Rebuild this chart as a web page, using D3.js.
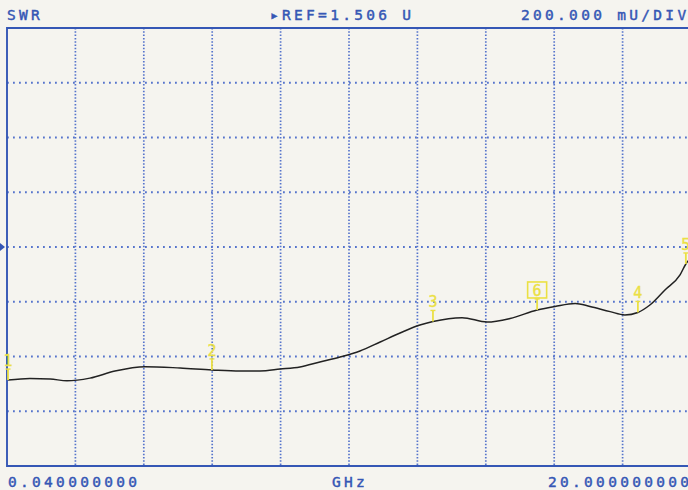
<!DOCTYPE html>
<html>
<head>
<meta charset="utf-8">
<script src="https://cdn.jsdelivr.net/npm/d3@7"></script>
<style>
  html, body { margin: 0; padding: 0; background: #f5f4ef; }
  svg { display: block; }
  text { font-family: "DejaVu Sans Mono", monospace; }
</style>
</head>
<body>
<script>
// trace: frequency (GHz) and SWR
var freq = [0.07, 0.71, 1.30, 1.79, 2.46, 3.19, 4.07, 5.09, 6.02, 6.84, 7.42, 8.01, 8.59, 9.17,
            9.76, 10.34, 10.93, 11.51, 12.09, 12.47, 13.32, 14.05, 14.72, 15.51, 16.03, 16.62,
            17.05, 17.64, 18.07, 18.45, 18.80, 19.24, 19.68, 19.85, 20.0];
var swr  = [1.020, 1.026, 1.024, 1.017, 1.027, 1.053, 1.069, 1.064, 1.057, 1.053, 1.053, 1.060,
            1.068, 1.086, 1.104, 1.126, 1.159, 1.192, 1.221, 1.234, 1.248, 1.232, 1.245, 1.276,
            1.289, 1.300, 1.289, 1.270, 1.258, 1.267, 1.294, 1.349, 1.404, 1.444, 1.466];

var markerIds   = ["1", "2", "3", "6", "4", "5"];
var markerFreqs = [0.07, 6.02, 12.47, 15.51, 18.45, 19.85];
var activeMarker = "6";

var startFreq = 0.04, stopFreq = 20, refValue = 1.506, perDiv = 0.2;
var xDivisions = 10, yDivisions = 8, refPos = 4;

var width = 688,
    height = 490;

var x = d3.scaleLinear()
    .domain([startFreq, stopFreq])
    .range([7, 691]);

var y = d3.scaleLinear()
    .domain([refValue - refPos * perDiv, refValue + (yDivisions - refPos) * perDiv])
    .range([466, 28]);

var blue = "#3557b5",
    yellow = "#ebe044";

var svg = d3.select("body").append("svg")
    .attr("width", width)
    .attr("height", height);

var xGrid = d3.range(1, xDivisions).map(function(i) { return startFreq + i * (stopFreq - startFreq) / xDivisions; });
var yGrid = d3.range(1, yDivisions).map(function(i) { return y.domain()[0] + i * perDiv; });

svg.selectAll(".vgrid")
    .data(xGrid)
  .enter().append("line")
    .attr("x1", function(d) { return x(d); })
    .attr("x2", function(d) { return x(d); })
    .attr("y1", y.range()[1])
    .attr("y2", y.range()[0])
    .style("stroke", "#5674cc")
    .style("stroke-width", 1.7)
    .style("stroke-dasharray", "1.5,1.8");

svg.selectAll(".hgrid")
    .data(yGrid)
  .enter().append("line")
    .attr("x1", x.range()[0])
    .attr("x2", x.range()[1])
    .attr("y1", function(d) { return y(d); })
    .attr("y2", function(d) { return y(d); })
    .style("stroke", "#5674cc")
    .style("stroke-width", 1.8)
    .style("stroke-dasharray", "1.8,4.2");

// frame
svg.append("path")
    .attr("d", "M" + x.range()[1] + "," + y.range()[1] + "H" + x.range()[0] + "V" + y.range()[0] + "H" + x.range()[1])
    .style("fill", "none")
    .style("stroke", blue)
    .style("stroke-width", 1.9);

// reference arrow
var ry = y(refValue);
svg.append("path")
    .attr("d", "M0," + (ry - 4) + "L5," + ry + "L0," + (ry + 4) + "Z")
    .style("fill", blue);

// trace
var pts = freq.map(function(f, i) { return [f, swr[i]]; });
var line = d3.line()
    .x(function(d) { return x(d[0]); })
    .y(function(d) { return y(d[1]); })
    .curve(d3.curveMonotoneX);

svg.append("path")
    .datum(pts)
    .attr("d", line)
    .style("fill", "none")
    .style("stroke", "#222")
    .style("stroke-width", 1.5);

// markers sit on the trace
var bis = d3.bisector(function(d) { return d; }).left;
function traceAt(f) {
  var i = Math.max(1, Math.min(freq.length - 1, bis(freq, f)));
  var t = (f - freq[i - 1]) / (freq[i] - freq[i - 1]);
  return swr[i - 1] + t * (swr[i] - swr[i - 1]);
}

var m = svg.selectAll(".marker")
    .data(markerIds.map(function(id, i) { return { id: id, f: markerFreqs[i] }; }))
  .enter().append("g")
    .attr("transform", function(d) { return "translate(" + x(d.f) + "," + y(traceAt(d.f)) + ")"; });

m.append("line")
    .attr("x1", 0).attr("x2", 0)
    .attr("y1", 0).attr("y2", -11)
    .style("stroke", yellow)
    .style("stroke-width", 1.8);

m.append("line")
    .attr("x1", -2.5).attr("x2", 2.5)
    .attr("y1", -11).attr("y2", -11)
    .style("stroke", yellow)
    .style("stroke-width", 1.4);

m.filter(function(d) { return d.id === activeMarker; })
  .append("rect")
    .attr("x", -9.5).attr("y", -28)
    .attr("width", 19).attr("height", 16)
    .style("fill", "none")
    .style("stroke", yellow)
    .style("stroke-width", 1.6);

m.append("text")
    .attr("x", 0)
    .attr("y", -14)
    .attr("text-anchor", "middle")
    .style("font-size", "15px")
    .style("fill", yellow)
    .style("stroke", yellow)
    .style("stroke-width", 0.4)
    .text(function(d) { return d.id; });

// annotation texts
function label(tx, ty, str) {
  svg.append("text")
    .attr("x", tx)
    .attr("y", ty)
    .style("font-size", "14.5px")
    .style("letter-spacing", "3.3px")
    .style("fill", blue)
    .style("stroke", blue)
    .style("stroke-width", 0.45)
    .text(str);
}

label(7, 20, "SWR");
label(270, 20, "\u25B8REF=" + refValue.toFixed(3) + " U");
label(521, 20, (perDiv * 1000).toFixed(3) + " mU/DIV");
label(8, 487, startFreq.toFixed(9));
label(332, 487, "GHz");
label(548, 487, stopFreq.toFixed(9));
</script>
</body>
</html>
